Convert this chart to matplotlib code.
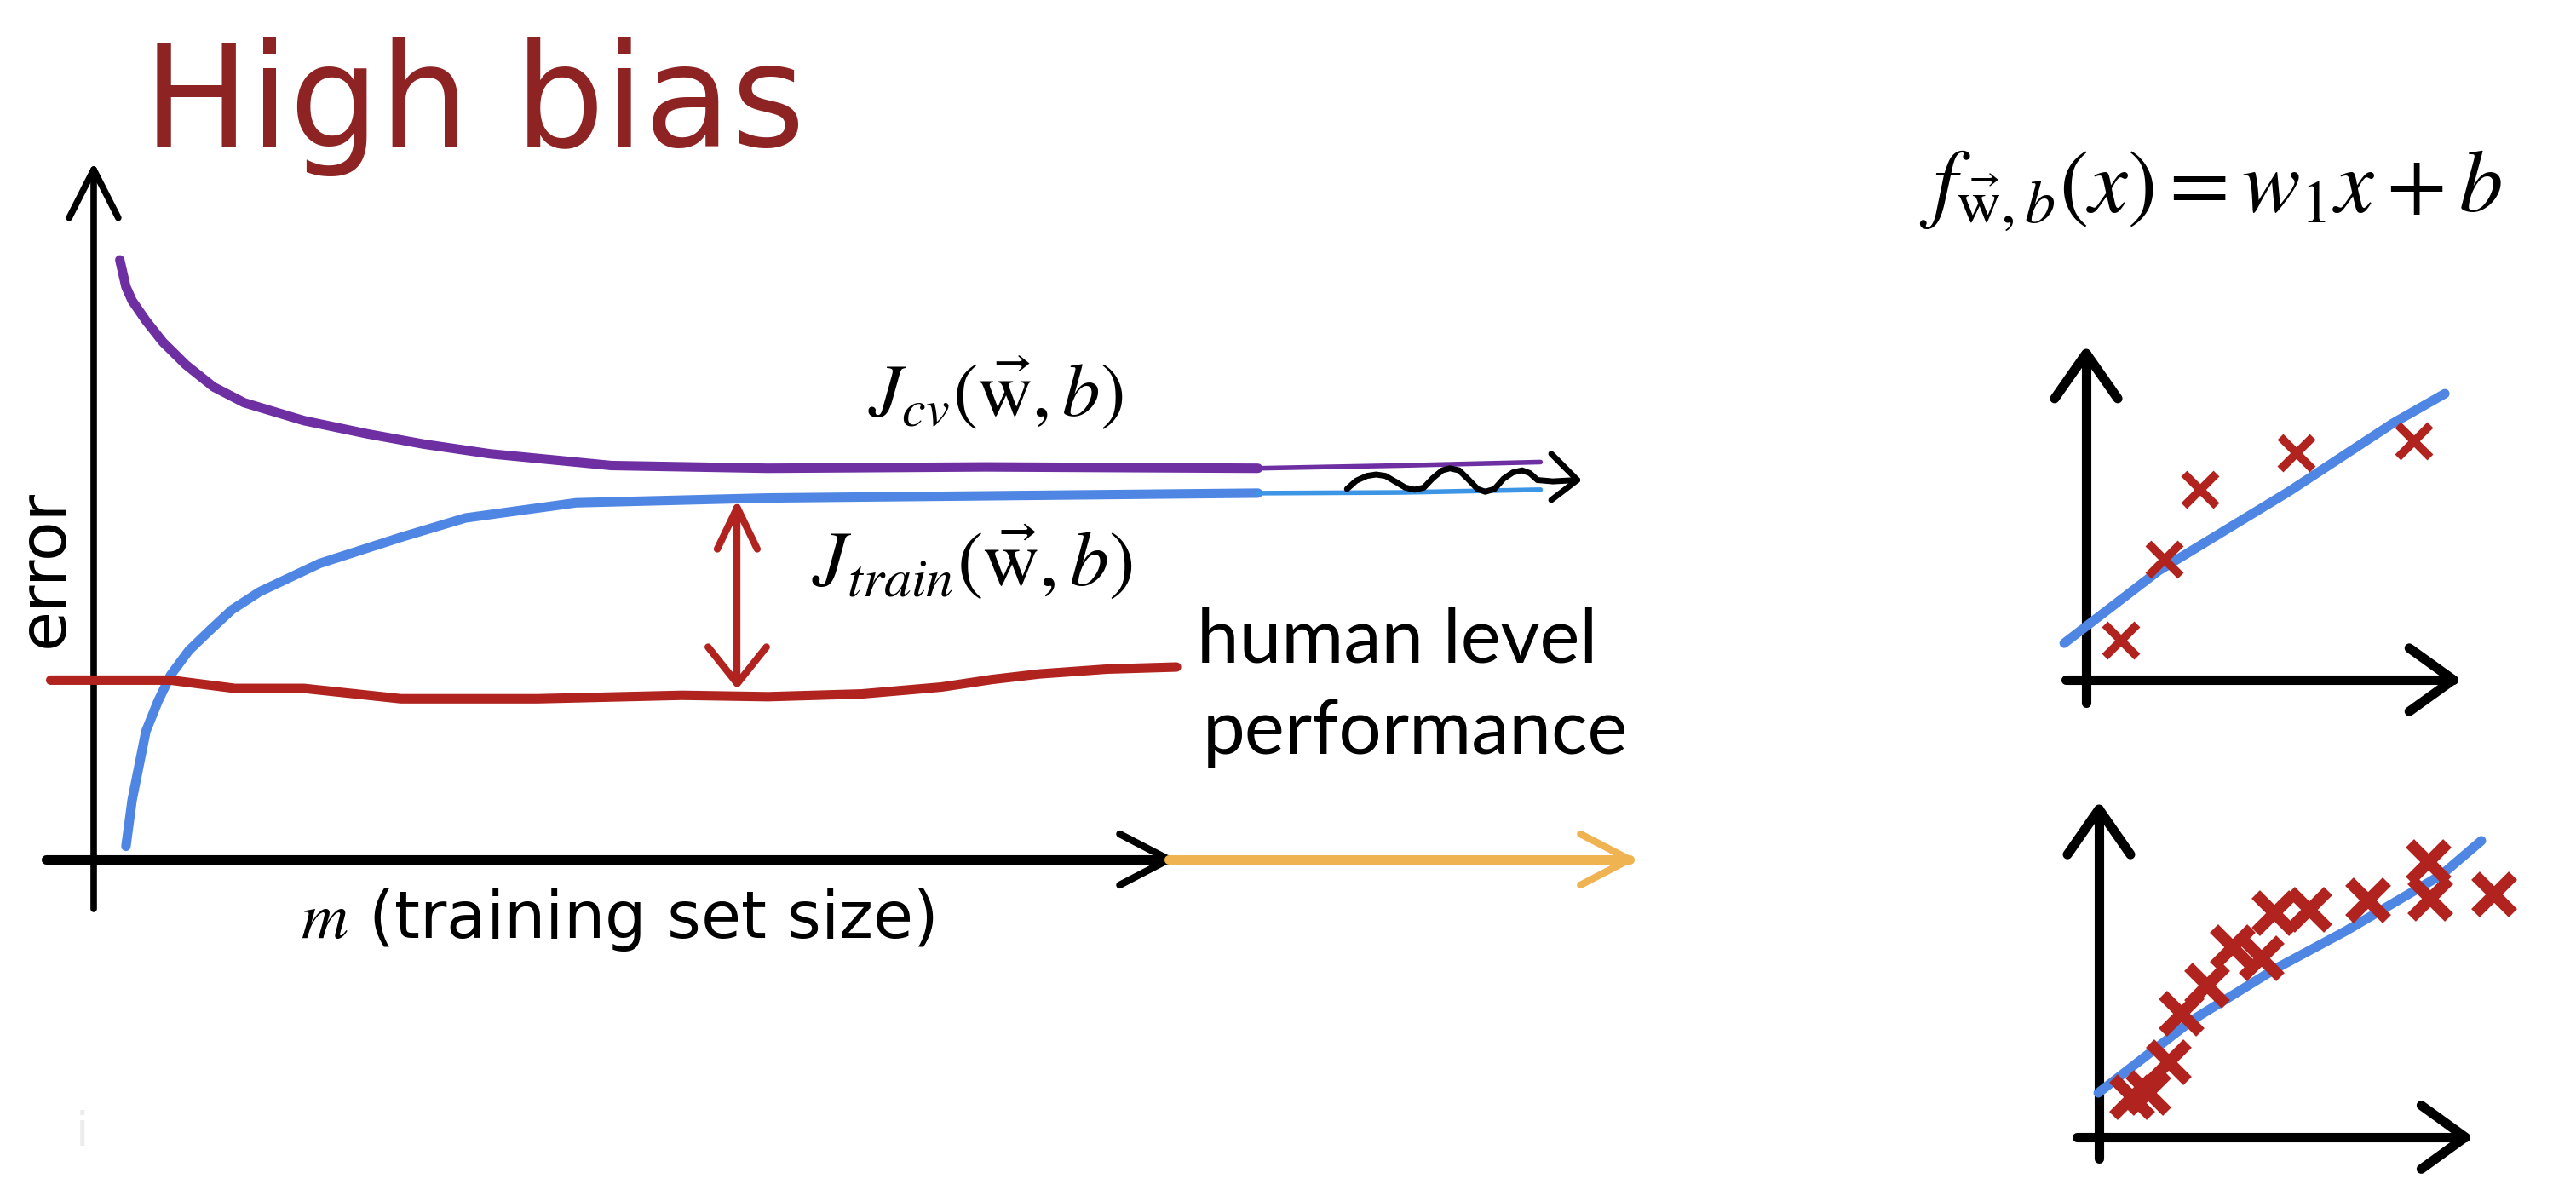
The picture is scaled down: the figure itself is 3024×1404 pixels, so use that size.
import numpy as np
import matplotlib
matplotlib.use("Agg")
import matplotlib.pyplot as plt

plt.rcParams["mathtext.fontset"] = "stix"

# ---- learning curve (x: training set size, y: error) -------------------
cv_m = [1.7, 2.1, 2.5, 3.4, 4.5, 6.0, 7.8, 9.8, 13.7, 17.8, 21.5, 25.8, 33.7, 43.9, 58.1, 75.8]
cv_err = [86.9, 83.0, 81.0, 78.1, 75.0, 71.7, 68.5, 66.2, 63.6, 61.7, 60.2, 58.8, 57.1, 56.7, 56.9, 56.7]
cv_tail_m = [75.8, 85.0, 94.2]
cv_tail_err = [56.7, 57.1, 57.6]

train_m = [2.1, 2.5, 3.4, 4.2, 5.0, 6.2, 7.6, 9.0, 10.8, 14.7, 20.0, 24.2, 31.4, 43.9, 75.8]
train_err = [1.9, 8.6, 18.6, 23.0, 26.7, 30.3, 33.3, 36.2, 38.8, 42.9, 46.7, 49.5, 51.7, 52.4, 53.1]
train_tail_m = [75.8, 85.0, 94.2]
train_tail_err = [53.1, 53.2, 53.6]

human_m = [-2.8, 5.0, 9.2, 13.7, 20.0, 28.9, 38.3, 43.9, 50.0, 55.2, 58.5, 61.6, 66.0, 70.5]
human_err = [26.0, 26.0, 24.8, 24.8, 23.3, 23.3, 23.8, 23.6, 24.0, 25.0, 26.1, 26.9, 27.6, 27.9]

gap_m = 41.9
gap_top, gap_bottom = 51.0, 25.5

wiggle_m = [81.6, 82.2, 82.9, 83.5, 84.1, 84.8, 85.4, 86.0, 86.6, 87.2, 87.8, 88.3,
            88.9, 89.5, 90.1, 90.6, 91.2, 91.8, 92.4, 93.0, 93.5, 94.0, 95.0, 96.6]
wiggle_err = [53.7, 54.9, 55.6, 55.8, 55.6, 54.7, 53.9, 53.6, 53.9, 55.3, 56.4, 56.7,
              56.4, 55.1, 53.7, 53.3, 53.7, 55.2, 56.1, 56.4, 56.0, 55.0, 54.8, 55.0]

# ---- small scatter: few examples ---------------------------------------
few_x = [0.95, 2.13, 3.11, 5.73, 8.93]
few_y = [1.20, 3.68, 5.82, 6.95, 7.31]
few_fit_x = [-0.60, 1.97, 5.52, 8.35, 9.77]
few_fit_y = [1.12, 3.34, 5.77, 7.86, 8.77]

# ---- small scatter: many examples --------------------------------------
many_x = [0.91, 1.35, 1.91, 2.26, 2.95, 3.65, 4.44, 4.79, 5.74, 7.35, 9.00, 9.05, 10.79]
many_y = [1.22, 1.35, 2.29, 3.77, 4.62, 5.79, 5.45, 6.83, 6.94, 7.22, 8.39, 7.27, 7.40]
many_fit_x = [-0.02, 2.56, 4.79, 6.74, 9.35, 10.44]
many_fit_y = [1.35, 3.58, 5.12, 6.29, 8.00, 9.04]

PURPLE = "#6E2FA3"
BLUE = "#4F86E3"
RED = "#B0231F"
ORANGE = "#F0B352"
TITLE_RED = "#8E2323"

W, H = 3024, 1404
fig = plt.figure(figsize=(W / 100, H / 100), dpi=100)
fig.patch.set_facecolor("white")


def px_rect(left, right, top, bottom):
    return [left / W, 1 - bottom / H, (right - left) / W, (bottom - top) / H]


def line(ax, xs, ys, **kw):
    kw.setdefault("solid_capstyle", "round")
    kw.setdefault("solid_joinstyle", "round")
    ax.plot(xs, ys, clip_on=False, **kw)


# ---- main learning-curve panel -----------------------------------------
ax = fig.add_axes(px_rect(110, 1913, 199, 1009))
ax.set_xlim(0, 100)
ax.set_ylim(0, 100)
ax.axis("off")

# axes arrows
line(ax, [0, 0], [-7.1, 100], color="black", lw=5.5)
line(ax, [-1.6, 0, 1.6], [93, 100, 93], color="black", lw=5.5)
line(ax, [-3.1, 70], [0, 0], color="black", lw=8)
line(ax, [66.8, 70, 66.8], [3.7, 0, -3.7], color="black", lw=6)
line(ax, [70, 100], [0, 0], color=ORANGE, lw=8)
line(ax, [96.8, 100, 96.8], [3.7, 0, -3.7], color=ORANGE, lw=6)

# curves
line(ax, cv_m, cv_err, color=PURPLE, lw=8)
line(ax, cv_tail_m, cv_tail_err, color=PURPLE, lw=4)
line(ax, train_m, train_err, color=BLUE, lw=8)
line(ax, train_tail_m, train_tail_err, color="#3D95E6", lw=4)
line(ax, human_m, human_err, color=RED, lw=8)

# gap arrow
line(ax, [gap_m, gap_m], [gap_top, gap_bottom], color=RED, lw=6)
line(ax, [gap_m - 1.3, gap_m, gap_m + 1.3], [gap_top - 6, gap_top, gap_top - 6], color=RED, lw=6)
line(ax, [gap_m - 1.9, gap_m, gap_m + 1.9], [gap_bottom + 5.3, gap_bottom, gap_bottom + 5.3], color=RED, lw=6)

# wiggly arrow
line(ax, wiggle_m, wiggle_err, color="black", lw=5)
line(ax, [94.9, 96.6, 94.9], [58.8, 55.0, 52.1], color="black", lw=5)

ax.text(58.7, 67.4, r"$J_{cv}(\vec{\mathrm{w}},b)$", fontsize=64, ha="center", va="center")
ax.text(57.2, 43.0, r"$J_{train}(\vec{\mathrm{w}},b)$", fontsize=66, ha="center", va="center")
ax.text(71.8, 28.6, "human level", fontsize=64, family="Lato", color="black",
        ha="left", va="baseline")
ax.text(72.2, 15.3, "performance", fontsize=64, family="Lato", color="black",
        ha="left", va="baseline")
ax.text(-3.2, 42.1, "error", fontsize=55, rotation=90, ha="center", va="center")
ax.text(34.1, -8.8, r"$m$ (training set size)", fontsize=55, ha="center", va="center")

# ---- titles --------------------------------------------------------------
fig.text(168 / W, 1 - 172 / H, "High bias", fontsize=120, color=TITLE_RED,
         ha="left", va="baseline")
fig.text(2253 / W, 1 - 247 / H, r"$f_{\vec{\mathrm{w}},b}(x) = w_1 x + b$",
         fontsize=74, ha="left", va="baseline")
fig.text(97 / W, 1 - 1345 / H, "i", fontsize=40, color="#ECECEC", ha="center", va="baseline")


# ---- small scatter panels -------------------------------------------------
def mini_axes(rect, xs, ys, fit_x, fit_y, ms, mew, y0, x0):
    a = fig.add_axes(rect)
    a.set_xlim(0, 10)
    a.set_ylim(0, 10)
    a.axis("off")
    line(a, [0, 0], [y0, 10], color="black", lw=8)
    line(a, [-0.86, 0, 0.86], [8.62, 10, 8.62], color="black", lw=8)
    line(a, [x0, 10], [0, 0], color="black", lw=8)
    line(a, [8.8, 10, 8.8], [0.97, 0, -0.97], color="black", lw=8)
    line(a, fit_x, fit_y, color=BLUE, lw=8)
    a.plot(xs, ys, "x", color=RED, ms=ms, mew=mew, clip_on=False)
    return a


mini_axes(px_rect(2449, 2880, 415, 798), few_x, few_y, few_fit_x, few_fit_y,
          ms=27, mew=7, y0=-0.7, x0=-0.56)
mini_axes(px_rect(2464, 2894, 950, 1335), many_x, many_y, many_fit_x, many_fit_y,
          ms=32, mew=10, y0=-0.65, x0=-0.6)

fig.savefig("out.png", dpi=100, facecolor="white")
